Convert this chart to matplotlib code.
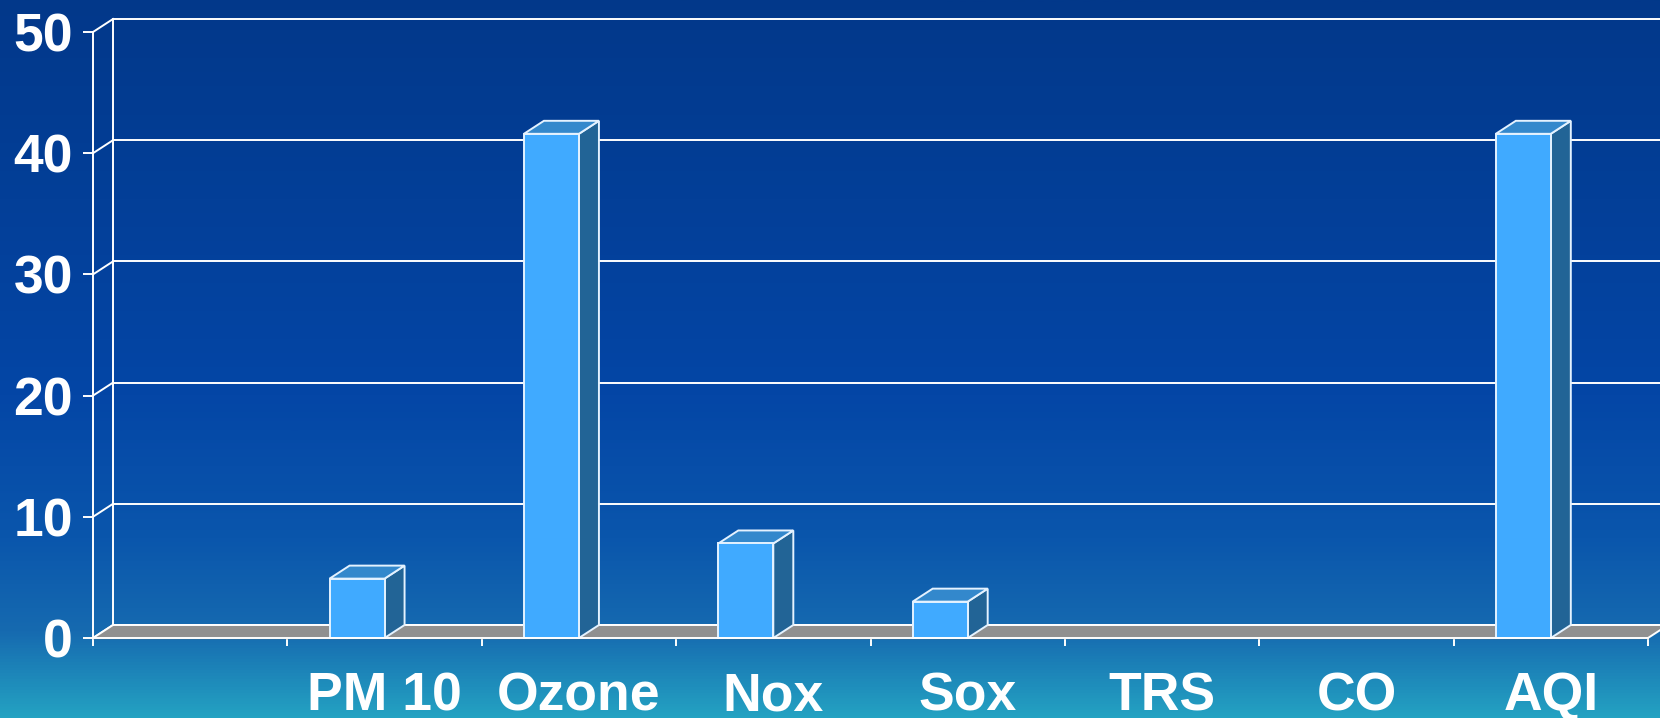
import numpy as np
import matplotlib
matplotlib.use("Agg")
import matplotlib.pyplot as plt
from matplotlib.patches import Polygon, Rectangle
from matplotlib.colors import LinearSegmentedColormap

# ---- data ----
categories = ["", "PM 10", "Ozone", "Nox", "Sox", "TRS", "CO", "AQI"]
values = [0, 4.9, 41.6, 7.8, 3.0, 0, 0, 41.6]
yticks = [0, 10, 20, 30, 40, 50]

W, H, DPI = 1660, 718, 100
fig = plt.figure(figsize=(W / DPI, H / DPI), dpi=DPI)

# background gradient
bg = fig.add_axes([0, 0, 1, 1])
bg.set_axis_off()
cmap = LinearSegmentedColormap.from_list(
    "bg",
    [(0.0, "#02388a"), (0.55, "#0446a6"), (0.75, "#0a56ac"),
     (0.88, "#166ab0"), (1.0, "#24a2c2")])
grad = np.linspace(0, 1, 512).reshape(-1, 1)
bg.imshow(grad, aspect="auto", cmap=cmap, extent=[0, 1, 0, 1], origin="upper")
bg.set_xlim(0, 1)
bg.set_ylim(0, 1)

# main axes: front plane of the 3D chart
left, right = 93 / W, 1648 / W
bottom, top = (H - 638) / H, (H - 32) / H
ax = fig.add_axes([left, bottom, right - left, top - bottom])
ax.patch.set_alpha(0)
n = len(categories)
ax.set_xlim(0, n)
ax.set_ylim(0, 50)

# depth offset expressed in data units
px_x = (right - left) * W / n
px_y = (top - bottom) * H / 50
dx = 20 / px_x
dy = 13 / px_y
bw = 55 / px_x

white = "#ffffff"
lw = 1.4

# back wall gridlines + side wall diagonals
for v in yticks:
    ax.plot([dx, n + dx + 1], [v + dy, v + dy], color=white, lw=lw,
            clip_on=False, zorder=2)
    ax.plot([0, dx], [v, v + dy], color=white, lw=lw, clip_on=False, zorder=2)
ax.plot([dx, dx], [dy, 50 + dy], color=white, lw=lw, clip_on=False, zorder=2)

# floor
floor = Polygon([(0, 0), (n, 0), (n + dx, dy), (dx, dy)], closed=True,
                facecolor="#909090", edgecolor="none", clip_on=False, zorder=3)
ax.add_patch(floor)
ax.plot([dx, n + dx + 1], [dy, dy], color=white, lw=lw, clip_on=False, zorder=3)
ax.plot([0, dx], [0, dy], color=white, lw=lw, clip_on=False, zorder=3)
ax.plot([n, n + dx], [0, dy], color=white, lw=lw, clip_on=False, zorder=3)
ax.plot([0, n], [0, 0], color="#6a6a6a", lw=1.0, clip_on=False, zorder=3)

# bars
front_c, top_c, side_c, edge_c = "#40aaff", "#3388cc", "#226496", "#e4f2ff"
for i, v in enumerate(values):
    if v <= 0:
        continue
    c = i + 0.5
    x0 = c - bw
    ax.add_patch(Polygon([(c, 0), (c + dx, dy), (c + dx, v + dy), (c, v)],
                         closed=True, facecolor=side_c, edgecolor=edge_c,
                         lw=lw, clip_on=False, zorder=4))
    ax.add_patch(Polygon([(x0, v), (c, v), (c + dx, v + dy), (x0 + dx, v + dy)],
                         closed=True, facecolor=top_c, edgecolor=edge_c,
                         lw=lw, clip_on=False, zorder=4))
    ax.add_patch(Rectangle((x0, 0), bw, v, facecolor=front_c,
                           edgecolor=edge_c, lw=lw, clip_on=False, zorder=5))

# spines
for s in ["top", "right"]:
    ax.spines[s].set_visible(False)
for s in ["left", "bottom"]:
    ax.spines[s].set_color(white)
    ax.spines[s].set_linewidth(lw)
    ax.spines[s].set_zorder(6)

font = dict(family=["Liberation Sans", "DejaVu Sans"], weight="bold", size=38.5,
            color=white)

ax.set_yticks(yticks)
ax.set_yticklabels([str(t) for t in yticks], **font)
ax.tick_params(axis="y", colors=white, length=7.5, width=lw, pad=7,
               labelcolor=white)

ax.set_xticks([i + 0.5 for i in range(n)])
ax.set_xticklabels(categories, **font)
ax.set_xticks(list(range(n + 1)), minor=True)
ax.tick_params(axis="x", which="major", length=0, pad=24, labelcolor=white)
ax.tick_params(axis="x", which="minor", length=6, width=lw, color=white)

fig.savefig("out.png", dpi=DPI)
